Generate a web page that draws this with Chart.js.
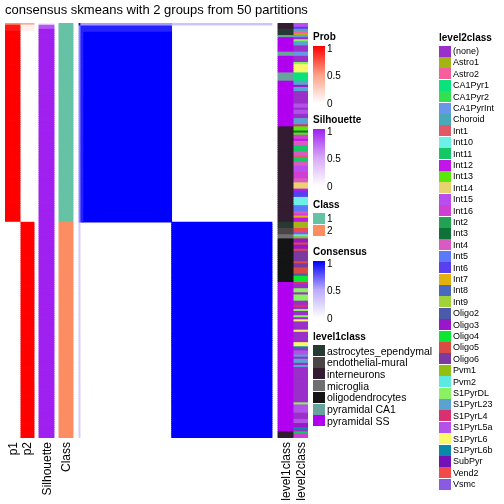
<!DOCTYPE html>
<html>
<head>
<meta charset="utf-8">
<script src="https://cdn.jsdelivr.net/npm/chart.js@4.4.0/dist/chart.umd.min.js"></script>
<style>
    body { margin: 0; background: #fff; font-family: "Liberation Sans", Arial, sans-serif; }
    #wrap { position: relative; width: 504px; height: 504px; overflow: hidden; }
    #plot { position: absolute; left: 0; top: 0; }
    .t { position: absolute; white-space: nowrap; color: #000; }
    .b { font-weight: bold; font-size: 10px; }
    .box { position: absolute; }
    .vlab { position: absolute; writing-mode: vertical-rl; transform: rotate(180deg); font-size: 12px; line-height: 14px; white-space: nowrap; }
</style>
</head>
<body>
<div id="wrap">
    <canvas id="plot" width="504" height="504"></canvas>
    <div class="t" style="left:0;width:313px;text-align:center;top:2px;font-size:13px;line-height:16px">consensus skmeans with 2 groups from 50 partitions</div>
    <div id="legends"></div>
</div>
<script>
// samples are rows (and columns of the consensus matrix), top to bottom
var N = 200
var classRuns = [[1, 96], [2, 104]]
var p1Runs = [[0.55, 1], [0.92, 3], [1, 92], [0, 104]]
var p2Runs = [[0.45, 1], [0.08, 3], [0, 92], [1, 104]]
var silRuns = [[0.12, 1], [0.8, 2], [1, 93], [1, 104]]

var level1Runs = [
    ['interneurons', 3], ['astrocytes_ependymal', 3], ['pyramidal CA1', 1], ['pyramidal SS', 7],
    ['pyramidal CA1', 2], ['pyramidal SS', 8], ['pyramidal CA1', 4], ['pyramidal SS', 22],
    ['interneurons', 46], ['astrocytes_ependymal', 3], ['endothelial-mural', 3], ['microglia', 2],
    ['oligodendrocytes', 21], ['pyramidal SS', 72], ['interneurons', 3]
]
var level2Runs = [
    ['Int15', 2], ['Int6', 1], ['Choroid', 1], ['Astro2', 1], ['Astro1', 1], ['CA1PyrInt', 1],
    ['(none)', 1], ['S1PyrDL', 1], ['S1PyrL23', 2], ['(none)', 3],
    ['CA1PyrInt', 2],
    ['(none)', 3], ['S1PyrDL', 1], ['S1PyrL6', 4],
    ['CA1Pyr1', 4],
    ['S1PyrL23', 2], ['Oligo3', 1], ['S1PyrL23', 2], ['(none)', 6], ['S1PyrL5a', 2], ['(none)', 1],
    ['S1PyrL5a', 2], ['(none)', 2], ['S1PyrL23', 3], ['S1PyrL4', 1],
    ['Int13', 2], ['Int3', 1], ['Int13', 1], ['Int16', 2], ['Int12', 1], ['Int4', 2], ['Int11', 3],
    ['Int4', 2], ['Int1', 1], ['Int11', 2], ['Int4', 2], ['Int15', 3], ['Int16', 3], ['Int4', 2],
    ['Int14', 3], ['Int12', 1], ['Int6', 3], ['Int10', 4], ['Int5', 3], ['Int4', 1], ['Int16', 1],
    ['Int7', 1], ['Int12', 2],
    ['Astro1', 3], ['Vend2', 2], ['Vsmc', 1], ['Pvm2', 1], ['Pvm1', 1],
    ['Oligo3', 2], ['Oligo5', 1], ['Oligo3', 2], ['Oligo5', 1], ['Oligo6', 5], ['Oligo5', 1],
    ['Oligo6', 2], ['Oligo5', 3], ['Oligo2', 1], ['Oligo4', 3],
    ['S1PyrL4', 1], ['(none)', 2], ['S1PyrDL', 2], ['(none)', 1], ['S1PyrDL', 3], ['(none)', 2],
    ['S1PyrL4', 1], ['(none)', 1], ['S1PyrDL', 1], ['(none)', 2], ['S1PyrDL', 1], ['(none)', 1],
    ['S1PyrL6', 1], ['(none)', 4], ['S1PyrL6', 1], ['(none)', 5], ['S1PyrL6', 2], ['S1PyrL6b', 1],
    ['(none)', 1], ['S1PyrL5a', 2], ['S1PyrL23', 1], ['(none)', 1], ['S1PyrL23', 2], ['(none)', 1],
    ['S1PyrL23', 1], ['(none)', 17], ['S1PyrDL', 1], ['S1PyrL5a', 4], ['(none)', 3], ['S1PyrL5a', 2],
    ['Oligo3', 2], ['S1PyrL6b', 1], ['(none)', 1],
    ['Int11', 1], ['Int16', 2]
]

// consensus matrix as blocks of (first row, last row, first col, last col, value); cells not listed are 0
var consensusBlocks = [
    [0, 0, 0, 0, 1],
    [0, 0, 1, 95, 0.55],
    [0, 0, 96, 199, 0.35],
    [1, 95, 0, 0, 0.62],
    [96, 199, 0, 0, 0.3],
    [1, 3, 1, 95, 0.9],
    [4, 95, 1, 3, 0.9],
    [4, 95, 4, 95, 1],
    [96, 199, 96, 199, 1]
]

var level1Names = ['astrocytes_ependymal', 'endothelial-mural', 'interneurons', 'microglia', 'oligodendrocytes', 'pyramidal CA1', 'pyramidal SS']
var level1Colors = ['#263a33', '#4b4548', '#331b31', '#6f6f6f', '#141414', '#68a39d', '#b100ef']
var level2Names = ['(none)', 'Astro1', 'Astro2', 'CA1Pyr1', 'CA1Pyr2', 'CA1PyrInt', 'Choroid', 'Int1', 'Int10', 'Int11',
    'Int12', 'Int13', 'Int14', 'Int15', 'Int16', 'Int2', 'Int3', 'Int4', 'Int5', 'Int6', 'Int7', 'Int8', 'Int9',
    'Oligo2', 'Oligo3', 'Oligo4', 'Oligo5', 'Oligo6', 'Pvm1', 'Pvm2', 'S1PyrDL', 'S1PyrL23', 'S1PyrL4', 'S1PyrL5a',
    'S1PyrL6', 'S1PyrL6b', 'SubPyr', 'Vend2', 'Vsmc']
var level2Colors = ['#9b2fc9', '#a2b514', '#f5609c', '#0ae27c', '#33e052', '#6896e8', '#4aa9b9', '#df5a66', '#6cf0e8', '#15c865',
    '#c215e8', '#5ae80a', '#e9d36f', '#b94ef0', '#d13fd2', '#21a352', '#0f7239', '#d95ac2', '#5b79f9', '#5a3ff1', '#e2b10f', '#4968c1', '#a1d23a',
    '#4a5ba9', '#9a17c9', '#0ae832', '#d94b43', '#7a3aa1', '#91c011', '#5be9e1', '#8af163', '#5aa2d1', '#d93170', '#b252e9',
    '#f8f86a', '#0a88a9', '#7311b9', '#f04a4a', '#8a5ae1']
var classColors = { 1: '#66c2a5', 2: '#fc8d62' }

var probStops = [[0, '#ffffff'], [0.5, '#ff9f85'], [1, '#ff0000']]
var silStops = [[0, '#ffffff'], [0.5, '#d7a7f8'], [1, '#a020f0']]
var consStops = [[0, '#ffffff'], [0.5, '#b9a9ff'], [1, '#0000ff']]

// x positions (in px from the left of the plot area) of each column
var colX = { p1: [0, 15], p2: [15, 29], sil: [34, 49], cls: [54, 68], heat: [74, 267], l1: [273, 288], l2: [288, 303] }

function expand(runs) {
    var out = []
    runs.forEach(function (r) { for (var i = 0; i < r[1]; i++) out.push(r[0]) })
    return out
}
function hex(c) { return [parseInt(c.substr(1, 2), 16), parseInt(c.substr(3, 2), 16), parseInt(c.substr(5, 2), 16)] }
function ramp(stops) {
    return function (v) {
        for (var i = 1; i < stops.length; i++) {
            if (v <= stops[i][0]) {
                var a = hex(stops[i - 1][1]), b = hex(stops[i][1])
                var t = (v - stops[i - 1][0]) / (stops[i][0] - stops[i - 1][0])
                return 'rgb(' + [0, 1, 2].map(function (k) { return Math.round(a[k] + (b[k] - a[k]) * t) }).join(',') + ')'
            }
        }
        return stops[stops.length - 1][1]
    }
}
function grad(stops) {
    return 'linear-gradient(to top,' + stops.map(function (s) { return s[1] + ' ' + (s[0] * 100) + '%' }).join(',') + ')'
}

var rows = []
for (var i = 0; i < N; i++) rows.push(String(i))
var cls = expand(classRuns), p1 = expand(p1Runs), p2 = expand(p2Runs), sil = expand(silRuns)
var l1 = expand(level1Runs), l2 = expand(level2Runs)
var probCol = ramp(probStops), silCol = ramp(silStops), consCol = ramp(consStops)

function column(range, colors) {
    return { data: rows.map(function () { return range.slice() }), backgroundColor: colors }
}
var heatW = (colX.heat[1] - colX.heat[0]) / N
function heatX(c) { return colX.heat[0] + c * heatW }

var datasets = [
    column(colX.p1, p1.map(probCol)),
    column(colX.p2, p2.map(probCol)),
    column(colX.sil, sil.map(silCol)),
    column(colX.cls, cls.map(function (c) { return classColors[c] })),
    column(colX.l1, l1.map(function (n) { return level1Colors[level1Names.indexOf(n)] })),
    column(colX.l2, l2.map(function (n) { return level2Colors[level2Names.indexOf(n)] }))
]
consensusBlocks.forEach(function (b) {
    datasets.push({
        data: rows.map(function (r, i) { return i >= b[0] && i <= b[1] ? [heatX(b[2]), heatX(b[3] + 1)] : null }),
        backgroundColor: consCol(b[4])
    })
})

new Chart(document.getElementById('plot'), {
    type: 'bar',
    data: { labels: rows, datasets: datasets },
    options: {
        indexAxis: 'y',
        responsive: false,
        animation: false,
        devicePixelRatio: 1,
        layout: { padding: { left: 5, top: 23, right: 196, bottom: 66 } },
        datasets: { bar: { grouped: false, barPercentage: 1, categoryPercentage: 1, borderWidth: 0, inflateAmount: 0.4 } },
        scales: {
            x: { type: 'linear', min: 0, max: 303, display: false },
            y: { type: 'category', display: false }
        },
        plugins: { legend: { display: false }, tooltip: { enabled: false } }
    }
})

// legends and labels
var html = ''
function text(x, cy, s, size, extra) {
    html += '<div class="t ' + (extra || '') + '" style="left:' + x + 'px;top:' + (cy - 7) + 'px;line-height:14px;font-size:' + size + 'px">' + s + '</div>'
}
function box(x, y, w, h, bg) {
    html += '<div class="box" style="left:' + x + 'px;top:' + y + 'px;width:' + w + 'px;height:' + h + 'px;background:' + bg + '"></div>'
}
function gradLegend(title, stops, top) {
    text(313, top, title, 10, 'b')
    box(313, top + 9, 12, 57, grad(stops))
    text(327, top + 12, '1', 10)
    text(327, top + 39, '0.5', 10)
    text(327, top + 67, '0', 10)
}
gradLegend('Prob', probStops, 37)
gradLegend('Silhouette', silStops, 120)
text(313, 205, 'Class', 10, 'b')
box(313, 213, 12, 11, classColors[1]); text(327, 218.5, '1', 10)
box(313, 225, 12, 11, classColors[2]); text(327, 231, '2', 10)
gradLegend('Consensus', consStops, 252)
text(313, 337, 'level1class', 10, 'b')
level1Names.forEach(function (n, k) {
    box(313, 345 + k * 11.7, 12, 11, level1Colors[k])
    text(327, 350.5 + k * 11.7, n, 10.5)
})
text(439, 38, 'level2class', 10, 'b')
level2Names.forEach(function (n, k) {
    box(439, 45.5 + k * 11.4, 12, 11, level2Colors[k])
    text(453, 51 + k * 11.4, n, 9)
})
var colLabels = [['p1', 12.5], ['p2', 27], ['Silhouette', 46.5], ['Class', 66], ['level1class', 285.5], ['level2class', 300.5]]
colLabels.forEach(function (c) {
    html += '<div class="vlab" style="left:' + (c[1] - 7) + 'px;top:442px">' + c[0] + '</div>'
})
document.getElementById('legends').innerHTML = html
</script>
</body>
</html>
